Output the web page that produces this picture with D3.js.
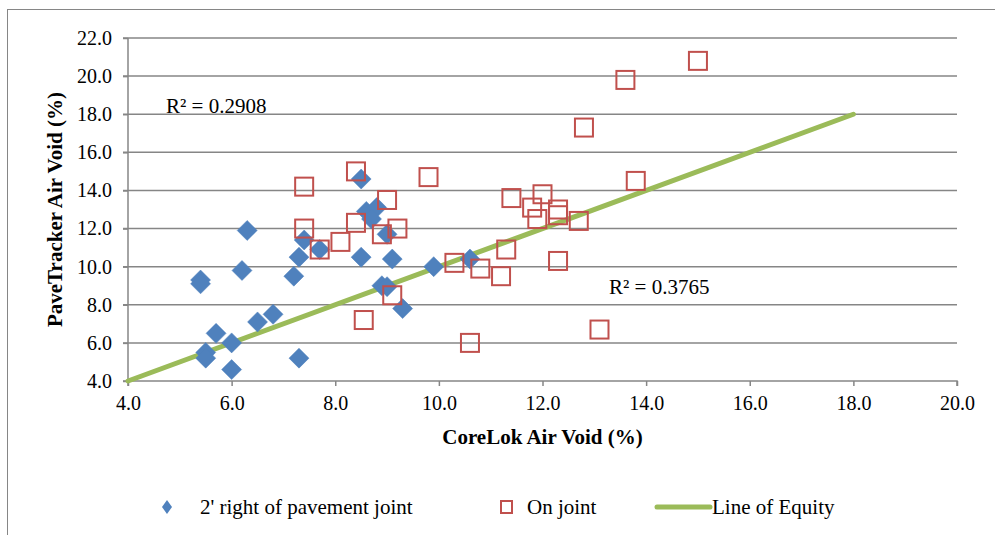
<!DOCTYPE html>
<html><head><meta charset="utf-8">
<script src="https://cdn.jsdelivr.net/npm/d3@7"></script>
<style>html,body{margin:0;padding:0;background:#fff;}svg{display:block;}</style>
</head><body>
<script>
const xTicks = [4,6,8,10,12,14,16,18,20];
const yTicks = [4,6,8,10,12,14,16,18,20,22];
const rightX = [5.4,5.4,6.3,6.2,7.2,7.3,7.4,7.7,6.8,6.5,5.7,6.0,5.5,5.5,6.0,7.3,8.5,8.6,8.8,8.7,9.0,8.5,9.1,9.9,8.9,9.0,9.3,10.6];
const rightY = [9.3,9.1,11.9,9.8,9.5,10.5,11.4,10.9,7.5,7.1,6.5,6.0,5.5,5.2,4.6,5.2,14.6,12.9,13.1,12.5,11.7,10.5,10.4,10.0,9.0,8.95,7.8,10.4];
const jointX = [8.4,9.8,9.0,8.4,8.9,9.2,8.1,7.4,7.4,7.7,9.1,8.55,10.6,10.3,10.8,11.2,11.3,11.4,15.0,13.6,12.8,13.8,12.0,11.8,11.9,12.3,12.3,12.7,12.3,13.1];
const jointY = [15.0,14.7,13.5,12.3,11.7,12.0,11.3,12.0,14.2,10.9,8.5,7.2,6.0,10.2,9.9,9.5,10.9,13.6,20.8,19.8,17.3,14.5,13.8,13.1,12.5,13.0,12.7,12.4,10.3,6.7];
const equityX = [4,18];
const equityY = [4,18];
const seriesNames = ["2' right of pavement joint","On joint","Line of Equity"];
const r2Labels = ["R² = 0.2908","R² = 0.3765"];

const W=995,H=535;
const svg=d3.select("body").append("svg").attr("width",W).attr("height",H);
svg.append("rect").attr("x",7.5).attr("y",9.5).attr("width",1000).attr("height",600)
  .attr("fill","#fff").attr("stroke","#868686").attr("stroke-width",1);

const x=d3.scaleLinear().domain([4,20]).range([128,957]);
const y=d3.scaleLinear().domain([4,22]).range([381,38]);
const font="'Liberation Serif','Times New Roman',serif";
const grid="#868686";

// gridlines
svg.append("g").selectAll("line").data(yTicks.filter(d=>d>4)).join("line")
  .attr("x1",x(4)-5).attr("x2",x(20)).attr("y1",d=>y(d)).attr("y2",d=>y(d))
  .attr("stroke",grid).attr("stroke-width",1.5);

// y axis
const ya=svg.append("g").attr("transform",`translate(${x(4)},0)`)
  .call(d3.axisLeft(y).tickValues(yTicks).tickFormat(d3.format(".1f")).tickSize(5).tickPadding(11));
ya.select(".domain").attr("stroke",grid).attr("stroke-width",1.5).attr("d",`M-5,${y(4)}H0V${y(22)}`);
ya.selectAll(".tick line").attr("stroke",grid).attr("stroke-width",1.5);
ya.selectAll("text").attr("font-family",font).attr("font-size",20).attr("fill","#000");

// x axis
const xa=svg.append("g").attr("transform",`translate(0,${y(4)})`)
  .call(d3.axisBottom(x).tickValues(xTicks).tickFormat(d3.format(".1f")).tickSize(5).tickPadding(10));
xa.select(".domain").attr("stroke",grid).attr("stroke-width",1.5).attr("d",`M${x(4)},5V0H${x(20)}V5`);
xa.selectAll(".tick line").attr("stroke",grid).attr("stroke-width",1.5);
xa.selectAll("text").attr("font-family",font).attr("font-size",20).attr("fill","#000");

// equity line
svg.append("line").attr("x1",x(equityX[0])).attr("y1",y(equityY[0]))
  .attr("x2",x(equityX[1])).attr("y2",y(equityY[1]))
  .attr("stroke","#9bbb59").attr("stroke-width",5).attr("stroke-linecap","round");

// diamonds
const rightData=rightX.map((v,i)=>[v,rightY[i]]);
const dia=10;
svg.append("g").selectAll("path").data(rightData).join("path")
  .attr("d",d=>`M${x(d[0])},${y(d[1])-dia}L${x(d[0])+dia},${y(d[1])}L${x(d[0])},${y(d[1])+dia}L${x(d[0])-dia},${y(d[1])}Z`)
  .attr("fill","#4f81bd").attr("stroke","#4f81bd").attr("stroke-width",0.5).attr("stroke-linejoin","round");

// squares
const jointData=jointX.map((v,i)=>[v,jointY[i]]);
const sq=18;
svg.append("g").selectAll("rect").data(jointData).join("rect")
  .attr("x",d=>x(d[0])-sq/2).attr("y",d=>y(d[1])-sq/2).attr("width",sq).attr("height",sq)
  .attr("fill","none").attr("stroke","#c0504d").attr("stroke-width",2);

// R2 labels
svg.append("text").attr("x",166).attr("y",113).text(r2Labels[0])
  .attr("font-family",font).attr("font-size",21);
svg.append("text").attr("x",609).attr("y",294).text(r2Labels[1])
  .attr("font-family",font).attr("font-size",21);

// axis titles
svg.append("text").attr("x",(x(4)+x(20))/2).attr("y",444).attr("text-anchor","middle")
  .attr("font-family",font).attr("font-size",21).attr("font-weight","bold").text("CoreLok Air Void (%)");
svg.append("text").attr("transform",`translate(62,${(y(4)+y(22))/2}) rotate(-90)`).attr("text-anchor","middle")
  .attr("font-family",font).attr("font-size",21).attr("font-weight","bold").text("PaveTracker Air Void (%)");

// legend
const ly=507;
svg.append("path").attr("d",`M167,${ly-7}L172,${ly}L167,${ly+7}L162,${ly}Z`).attr("fill","#4f81bd");
svg.append("text").attr("x",200).attr("y",ly+6.5).text(seriesNames[0]).attr("font-family",font).attr("font-size",21);
svg.append("rect").attr("x",501).attr("y",ly-6).attr("width",11).attr("height",12).attr("fill","none").attr("stroke","#c0504d").attr("stroke-width",2);
svg.append("text").attr("x",527).attr("y",ly+6.5).text(seriesNames[1]).attr("font-family",font).attr("font-size",21);
svg.append("line").attr("x1",657).attr("x2",710).attr("y1",ly).attr("y2",ly).attr("stroke","#9bbb59").attr("stroke-width",5).attr("stroke-linecap","round");
svg.append("text").attr("x",712).attr("y",ly+6.5).text(seriesNames[2]).attr("font-family",font).attr("font-size",21);
</script>
</body></html>
